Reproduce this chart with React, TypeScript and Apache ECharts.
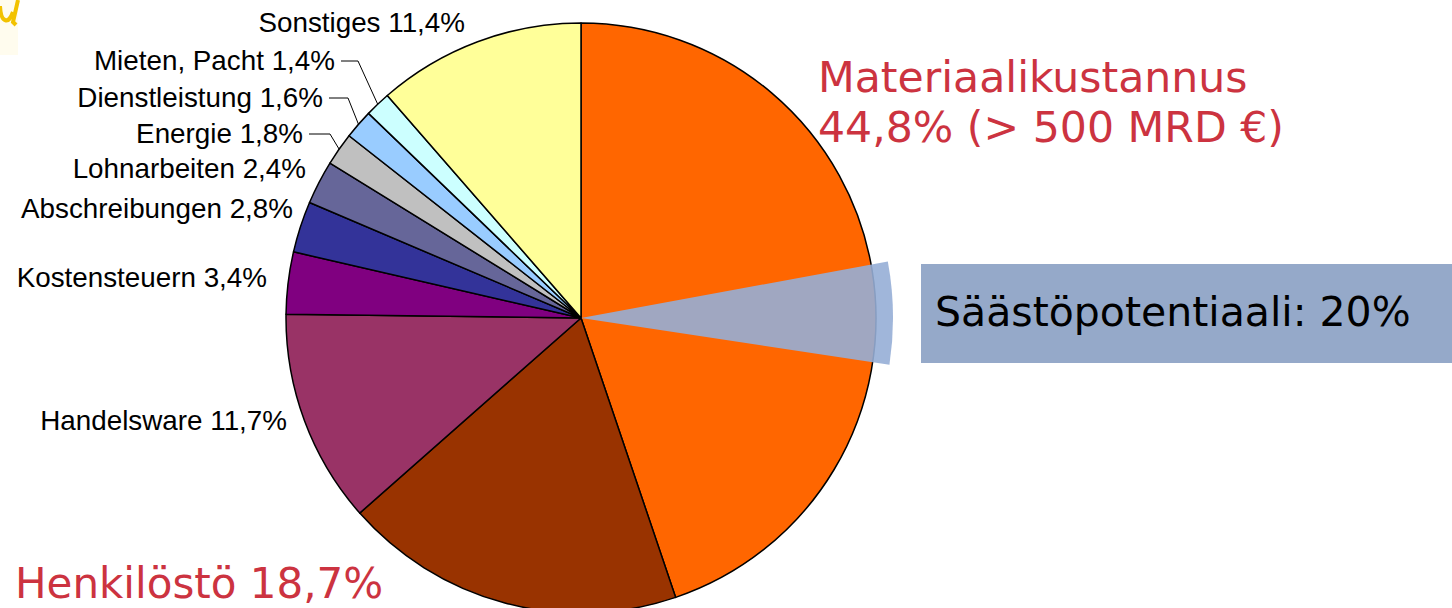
import React, { useEffect, useRef } from 'react';
import * as echarts from 'echarts';

// ---- data ----
const categories = [
  'Materiaalikustannus',
  'Henkilöstö',
  'Handelsware',
  'Kostensteuern',
  'Abschreibungen',
  'Lohnarbeiten',
  'Energie',
  'Dienstleistung',
  'Mieten, Pacht',
  'Sonstiges',
];
const shares = [44.8, 18.7, 11.7, 3.4, 2.8, 2.4, 1.8, 1.6, 1.4, 11.4];
// savings wedge drawn over the material-cost slice: offset from start, width (percent of circle)
const savingsOffset = [22.1];
const savingsWidth = [5.3];
const savingsLabel = 'Säästöpotentiaali: 20%';
const materialNote = '(> 500 MRD €)';

// ---- styles / layout ----
const colors = ['#FF6600', '#993300', '#993366', '#800080', '#333399', '#666699', '#C0C0C0', '#99CCFF', '#CCFFFF', '#FFFF99'];
const W = 1452;
const H = 608;
const CX = 581;
const CY = 318;
const R = 295;
const R_SAVE = 312;
// right-edge x and middle y of the small black labels, by category index
const smallLabelPos: Record<number, [number, number]> = {
  2: [287, 420],
  3: [267, 277],
  4: [293, 208],
  5: [306, 168],
  6: [303, 133],
  7: [323, 97],
  8: [335, 60],
  9: [465, 22],
};
// elbow x of leader lines
const leaderElbow: Record<number, number> = { 6: 330, 7: 348, 8: 358 };

const fmt = (v: number) => v.toFixed(1).replace('.', ',') + '%';

function polar(pct: number, r: number): [number, number] {
  const t = (pct / 100) * Math.PI * 2;
  return [CX + r * Math.sin(t), CY - r * Math.cos(t)];
}

export default function App() {
  const ref = useRef<HTMLDivElement>(null);
  useEffect(() => {
    document.body.style.margin = '0';
    const chart = echarts.init(ref.current!, null, { renderer: 'svg' });

    const cum: number[] = [];
    let acc = 0;
    shares.forEach((s) => {
      cum.push(acc);
      acc += s;
    });

    const smallFont = '27.8px "Liberation Sans", Arial, Helvetica, sans-serif';
    const bigFont = '42.6px "DejaVu Sans", Verdana, sans-serif';
    const red = '#CC3340';

    const graphic: any[] = [];
    // top-left decoration fragment (cut-off title glyph)
    graphic.push({ type: 'rect', shape: { x: 0, y: 0, width: 18, height: 55 }, style: { fill: '#FFFCEE' }, z: 1 });
    graphic.push({
      type: 'bezierCurve',
      shape: { x1: 0, y1: 6, cpx1: 1, cpy1: 24, cpx2: 9, cpy2: 24, x2: 13, y2: 12 },
      style: { stroke: '#F2C200', lineWidth: 4, fill: null },
      z: 2,
    });
    graphic.push({
      type: 'polyline',
      shape: { points: [[18, 0], [13, 22], [16, 25]] },
      style: { stroke: '#F2C200', lineWidth: 4, fill: null },
      z: 2,
    });

    Object.keys(smallLabelPos).forEach((k) => {
      const i = Number(k);
      const [x, y] = smallLabelPos[i];
      graphic.push({
        type: 'text',
        style: { text: `${categories[i]} ${fmt(shares[i])}`, x, y, align: 'right', verticalAlign: 'middle', font: smallFont, fill: '#000' },
        z: 20,
      });
      if (leaderElbow[i] !== undefined) {
        const end = polar(cum[i] + shares[i] / 2, R);
        graphic.push({
          type: 'polyline',
          shape: { points: [[x + 6, y + 1], [leaderElbow[i], y + 1], end] },
          style: { stroke: '#000', lineWidth: 1, fill: null },
          z: 20,
        });
      }
    });

    // big red labels
    graphic.push({
      type: 'text',
      style: { text: categories[0], x: 818, y: 77, align: 'left', verticalAlign: 'middle', font: bigFont, fill: red },
      z: 20,
    });
    graphic.push({
      type: 'text',
      style: { text: `${fmt(shares[0])} ${materialNote}`, x: 818, y: 127, align: 'left', verticalAlign: 'middle', font: bigFont, fill: red },
      z: 20,
    });
    graphic.push({
      type: 'text',
      style: { text: `${categories[1]} ${fmt(shares[1])}`, x: 15, y: 583, align: 'left', verticalAlign: 'middle', font: '42px "DejaVu Sans", Verdana, sans-serif', fill: red },
      z: 20,
    });

    // savings box
    graphic.push({ type: 'rect', shape: { x: 921, y: 264, width: 540, height: 99 }, style: { fill: '#95A9C9' }, z: 5 });
    graphic.push({
      type: 'text',
      style: { text: savingsLabel, x: 935, y: 312, align: 'left', verticalAlign: 'middle', font: '41px "DejaVu Sans", Verdana, sans-serif', fill: '#000' },
      z: 20,
    });

    const option: any = {
      animation: false,
      backgroundColor: '#fff',
      graphic,
      series: [
        {
          type: 'pie',
          center: [CX, CY],
          radius: [0, R],
          startAngle: 90,
          clockwise: true,
          silent: true,
          avoidLabelOverlap: false,
          label: { show: false },
          labelLine: { show: false },
          itemStyle: { borderColor: '#000', borderWidth: 1.5 },
          emphasis: { disabled: true },
          data: categories.map((c, i) => ({ name: c, value: shares[i], itemStyle: { color: colors[i] } })),
          z: 2,
        },
        {
          type: 'pie',
          center: [CX, CY],
          radius: [0, R_SAVE],
          startAngle: 90,
          clockwise: true,
          silent: true,
          avoidLabelOverlap: false,
          label: { show: false },
          labelLine: { show: false },
          emphasis: { disabled: true },
          data: [
            { name: 'pre', value: savingsOffset[0], itemStyle: { color: 'rgba(0,0,0,0)' } },
            { name: 'Säästö', value: savingsWidth[0], itemStyle: { color: 'rgba(150,174,214,0.9)' } },
            { name: 'post', value: 100 - savingsOffset[0] - savingsWidth[0], itemStyle: { color: 'rgba(0,0,0,0)' } },
          ],
          z: 3,
        },
      ],
    };
    chart.setOption(option);
    return () => chart.dispose();
  }, []);
  return <div ref={ref} style={{ width: W, height: H }} />;
}
